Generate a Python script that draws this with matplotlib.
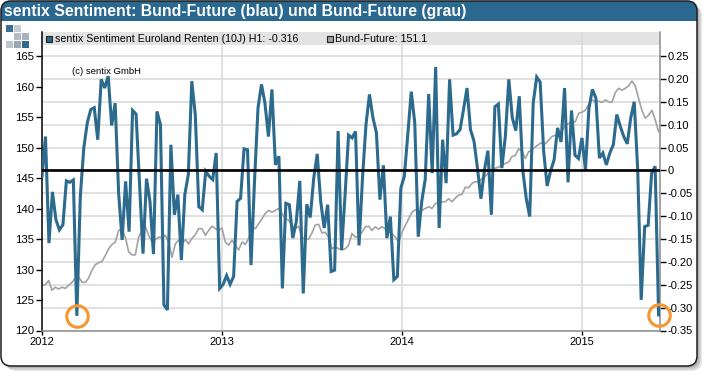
import numpy as np
import pandas as pd
import matplotlib
matplotlib.use("Agg")
import matplotlib.pyplot as plt
from matplotlib.patches import FancyBboxPatch, Rectangle
from matplotlib.ticker import FixedLocator, FixedFormatter

# ---------------- data ----------------
title = "sentix Sentiment: Bund-Future (blau) und Bund-Future (grau)"
legend_senti = "sentix Sentiment Euroland Renten (10J) H1: -0.316"
legend_bund = "Bund-Future: 151.1"
copyright_txt = "(c) sentix GmbH"

senti = [
    -0.013, 0.074, -0.159, -0.047, -0.108, -0.130, -0.119, -0.023, -0.026, -0.021, -0.318,
    -0.057, 0.049, 0.104, 0.133, 0.137, 0.067, 0.199, 0.180, 0.206, 0.098, 0.147, -0.050,
    -0.152, -0.024, -0.134, 0.131, 0.123, -0.030, -0.182, -0.018, -0.068, -0.183, 0.129,
    0.100, -0.294, -0.305,
    0.056, -0.097, -0.053, -0.196, -0.053, -0.009, 0.195, 0.122, -0.079, -0.086, -0.002,
    -0.013, -0.020, 0.038, -0.258, -0.249, -0.230, -0.249, -0.232, -0.068, -0.061, 0.047,
    0.045, -0.207, -0.024, 0.136, 0.188, 0.147, 0.074, 0.177, 0.012, 0.031, -0.258, -0.072,
    -0.075, -0.148, -0.112, -0.023, -0.269, -0.074, -0.103, -0.017, 0.036, -0.068, -0.126,
    -0.075, -0.221, -0.218, 0.086, -0.174, -0.053, 0.077, 0.071, 0.085, -0.164, -0.017,
    0.100, 0.166, 0.115, 0.082, -0.064, 0.011, -0.148, -0.101, -0.239, -0.232, -0.039, -0.013,
    0.078, 0.172, 0.104, -0.145, -0.068, -0.020, 0.167, -0.006, 0.226, -0.126, 0.067, -0.028,
    0.199, 0.077, 0.080, 0.089, 0.133, 0.180, 0.089, 0.064, 0.005, -0.062, 0.001, 0.043,
    -0.097, 0.139, 0.145, 0.005, 0.074, 0.199, 0.115, 0.087, 0.162, 0.001, -0.061, -0.101,
    0.147, 0.204, 0.193, 0.042, -0.034, -0.001, 0.023, 0.093, 0.062, 0.180, -0.026, 0.131,
    0.033, 0.026, 0.071, 0.001, 0.136, 0.177, 0.158, 0.027, 0.038, 0.012, 0.038, 0.056,
    0.122, 0.096, 0.074, 0.058, 0.115, 0.150, 0.001, -0.283, -0.123, -0.120, -0.006, 0.009,
    -0.316,
]

bund = [
    127.4, 127.5, 128.2, 126.6, 127.1, 126.8, 127.1, 126.9, 127.4, 127.9, 128.6, 128.8,
    127.9, 127.9, 128.6, 129.9, 130.8, 131.1, 131.3, 132.3, 133.4, 134.1, 134.5, 136.4,
    136.6, 135.3, 132.9, 132.4, 132.4, 135.3, 136.4, 137.1, 135.6, 134.5, 134.9, 135.3, 135.2,
    135.6, 134.5, 132.0, 134.2, 134.8, 134.2, 134.9, 134.2, 135.1, 135.7, 136.7, 136.7,
    135.6, 136.4, 137.1, 136.7, 136.4, 136.8, 134.5, 134.0, 134.8, 134.0, 133.2, 134.5,
    134.1, 135.1, 137.0, 136.7, 137.5, 138.3, 139.2, 139.7, 139.4, 139.7, 140.0,
    139.2, 138.3, 138.1, 137.2, 136.7, 137.1, 135.3, 135.0, 135.0, 136.0, 137.3, 137.4,
    136.0, 136.1, 135.3, 133.4, 133.7, 133.4, 133.2, 133.4, 134.0, 135.9, 135.3, 135.5,
    136.1, 137.0, 137.1, 136.4, 137.0, 136.6, 137.0, 136.7, 136.2, 135.9, 135.3,
    134.5, 136.1, 137.2, 138.3, 139.4, 139.8, 139.4, 139.7, 140.0, 140.3, 140.0, 140.8,
    141.0, 141.1, 141.1, 141.6, 141.1, 141.7, 142.2, 142.3, 143.5, 143.4, 144.1, 144.4,
    144.3, 144.9, 145.3, 145.9, 146.3, 146.6, 146.8, 147.1, 147.4, 147.6, 148.5, 148.7,
    149.8, 149.4, 148.2, 149.3, 149.6, 150.1, 150.5, 150.8, 150.6, 151.2, 151.8, 152.0,
    152.3, 152.7, 153.7, 153.9, 154.3, 154.2, 155.6, 155.8, 156.1, 157.0, 157.8, 157.5,
    157.6, 157.4, 157.8, 157.5, 157.4, 159.0, 159.7, 159.4, 159.7, 160.1, 160.9, 160.1,
    158.0, 156.1, 154.8, 155.3, 156.1, 154.5, 152.6,
]

start_date, end_date = "2012-01-02", "2015-06-05"
senti_dates = pd.date_range(start_date, end_date, periods=len(senti))
bund_dates = pd.date_range(start_date, end_date, periods=len(bund))

left_ticks = [120, 125, 130, 135, 140, 145, 150, 155, 160, 165]
right_ticks = [-0.35, -0.30, -0.25, -0.20, -0.15, -0.10, -0.05, 0.0, 0.05, 0.10, 0.15, 0.20, 0.25]
right_labels = ["-0.35", "-0.30", "-0.25", "-0.20", "-0.15", "-0.10", "-0.05", "0",
                "0.05", "0.10", "0.15", "0.20", "0.25"]
year_labels = ["2012", "2013", "2014", "2015"]

# ---------------- style ----------------
BLUE = "#2c6a8e"
GRAY = "#a2a2a2"
ORANGE = "#f7962e"
BAR = "#2a6890"
FONT = ["Liberation Sans", "DejaVu Sans"]
plt.rcParams["font.family"] = FONT

W, H = 710, 376
fig = plt.figure(figsize=(W / 100, H / 100), dpi=100)
fig.patch.set_facecolor("white")

def fx(px):
    return px / W

def fy(py):
    return 1 - py / H

# frame shadow
for off, a in [(5, 0.25), (3.5, 0.35), (2, 0.45)]:
    fig.patches.append(FancyBboxPatch((fx(1 + off), fy(366 + off)), fx(696), 365 / H,
                                      boxstyle="round,pad=0,rounding_size=0.014",
                                      transform=fig.transFigure, facecolor="#9a9a9a",
                                      edgecolor="none", alpha=a, zorder=0,
                                      mutation_aspect=W / H))
# frame body
fig.patches.append(FancyBboxPatch((fx(1), fy(366)), fx(696), 365 / H,
                                  boxstyle="round,pad=0,rounding_size=0.014",
                                  transform=fig.transFigure, facecolor="white",
                                  edgecolor="none", zorder=1, mutation_aspect=W / H))
# title bar (rounded top, square bottom)
fig.patches.append(FancyBboxPatch((fx(1), fy(21)), fx(696), 20 / H,
                                  boxstyle="round,pad=0,rounding_size=0.014",
                                  transform=fig.transFigure, facecolor=BAR,
                                  edgecolor="none", zorder=2, mutation_aspect=W / H))
fig.patches.append(Rectangle((fx(1), fy(21)), fx(696), 10 / H, transform=fig.transFigure,
                             facecolor=BAR, edgecolor="none", zorder=2))
# frame outline
fig.patches.append(FancyBboxPatch((fx(1), fy(366)), fx(696), 365 / H,
                                  boxstyle="round,pad=0,rounding_size=0.014",
                                  transform=fig.transFigure, facecolor="none",
                                  edgecolor="#1e1e1e", linewidth=1.1, zorder=3,
                                  mutation_aspect=W / H))
fig.text(fx(4), fy(11.5), title, color="white", fontsize=11.4, fontweight="bold",
         va="center", ha="left", zorder=4)

# logo squares
logo = [(6, 25, "#3a6e96"), (14, 25, "#c4ccd4"),
        (14, 33, "#b4bcc6"), (22, 33, "#a9b3be"),
        (6, 41, "#bcc4cc"), (14, 41, "#9aa6b2"), (22, 41, "#2f6890")]
for lx, ly, c in logo:
    fig.patches.append(Rectangle((fx(lx), fy(ly + 7)), fx(7), 7 / H,
                                 transform=fig.transFigure, facecolor=c,
                                 edgecolor="none", zorder=4))

# ---------------- axes ----------------
ax_l, ax_r, ax_t, ax_b = 41.5, 659.6, 32.0, 330.5
ax = fig.add_axes([fx(ax_l), fy(ax_b), fx(ax_r - ax_l), (ax_b - ax_t) / H])
ax.set_zorder(5)
ax.patch.set_alpha(0)
ax2 = ax.twinx()
ax2.patch.set_alpha(0)

left_min = left_ticks[0]
right_min, right_max_tick = right_ticks[0], right_ticks[-1]
scale = (left_ticks[-1] - left_min) / (right_max_tick - right_min)
top_px_extra = (330.5 - 32.0) / (330.5 - 56.0)
right_top = right_min + (right_max_tick - right_min) * top_px_extra
left_top = left_min + (left_ticks[-1] - left_min) * top_px_extra
ax.set_ylim(left_min, left_top)
ax2.set_ylim(right_min, right_top)

x0 = pd.Timestamp("2012-01-01")
x1 = pd.Timestamp("2015-06-07")
ax.set_xlim(x0, x1)

# legend band
ax.add_patch(Rectangle((0, 1 - 13 / (ax_b - ax_t)), 1, 13 / (ax_b - ax_t),
                       transform=ax.transAxes, facecolor="#e3e3e3", edgecolor="none",
                       zorder=0))

year_pos = [pd.Timestamp(f"{y}-01-01") for y in year_labels]
ax.set_xticks(year_pos)
ax.set_xticklabels(year_labels)
for yp in year_pos[1:]:
    ax.axvline(yp, color="#d9d9d9", lw=1.1, zorder=0.5)

# horizontal grid aligned with right-axis ticks
for v in right_ticks:
    ax.axhline(left_min + (v - right_min) * scale, color="#d9d9d9", lw=1.1, zorder=0.5)

ax.plot(bund_dates, bund, color=GRAY, lw=1.2, zorder=2)

ax.set_yticks(left_ticks)
ax.set_yticklabels([str(t) for t in left_ticks])
ax2.yaxis.set_major_locator(FixedLocator(right_ticks))
ax2.yaxis.set_major_formatter(FixedFormatter(right_labels))

ax2.plot(senti_dates, senti, color=BLUE, lw=2.2, zorder=3, solid_joinstyle="miter")
ax2.axhline(0, color="black", lw=1.9, zorder=4)

# orange circles at the sentiment minima
i_min = int(np.argmin(senti[:60]))
ax2.plot([senti_dates[i_min]], [senti[i_min]], marker="o", ms=15.5, mfc="none",
         mec=ORANGE, mew=2.2, zorder=6, clip_on=False)
ax2.plot([senti_dates[-1]], [senti[-1]], marker="o", ms=15.5, mfc="none",
         mec=ORANGE, mew=2.2, zorder=6, clip_on=False)

# spines and ticks
for a in (ax, ax2):
    a.spines["top"].set_visible(False)
ax.spines["left"].set_color("black")
ax.spines["left"].set_linewidth(1.1)
ax.spines["bottom"].set_color("#8c8c8c")
ax.spines["bottom"].set_linewidth(1.1)
ax.spines["right"].set_visible(False)
ax2.spines["left"].set_visible(False)
ax2.spines["bottom"].set_visible(False)
ax2.spines["right"].set_color("#8c8c8c")
ax2.spines["right"].set_linewidth(1.1)

ax.tick_params(axis="y", direction="out", length=4, width=1, colors="black",
               labelsize=8.2, pad=1.5)
ax2.tick_params(axis="y", direction="out", length=4, width=1, colors="black",
                labelsize=8, pad=1.5)
ax.tick_params(axis="x", direction="out", length=3, width=1, colors="black",
               labelsize=8, pad=1.5)

# legend entries
ly = 1 - 6.5 / (ax_b - ax_t)
ax.plot([0.0129], [ly], marker="s", ms=5, mfc=BLUE, mec="#202020", mew=0.8,
        transform=ax.transAxes, clip_on=False, zorder=7)
ax.text(0.0218, ly, legend_senti, transform=ax.transAxes, fontsize=7.7,
        va="center", ha="left", zorder=7)
ax.plot([0.466], [ly], marker="s", ms=5, mfc="#a0a0a0", mec="#202020", mew=0.8,
        transform=ax.transAxes, clip_on=False, zorder=7)
ax.text(0.4755, ly, legend_bund, transform=ax.transAxes, fontsize=7.7,
        va="center", ha="left", zorder=7)

ax.text(0.049, 1 - 39 / (ax_b - ax_t), copyright_txt, transform=ax.transAxes,
        fontsize=6.8, va="center", ha="left", zorder=7)

fig.savefig("out.png", dpi=100, facecolor="white")
